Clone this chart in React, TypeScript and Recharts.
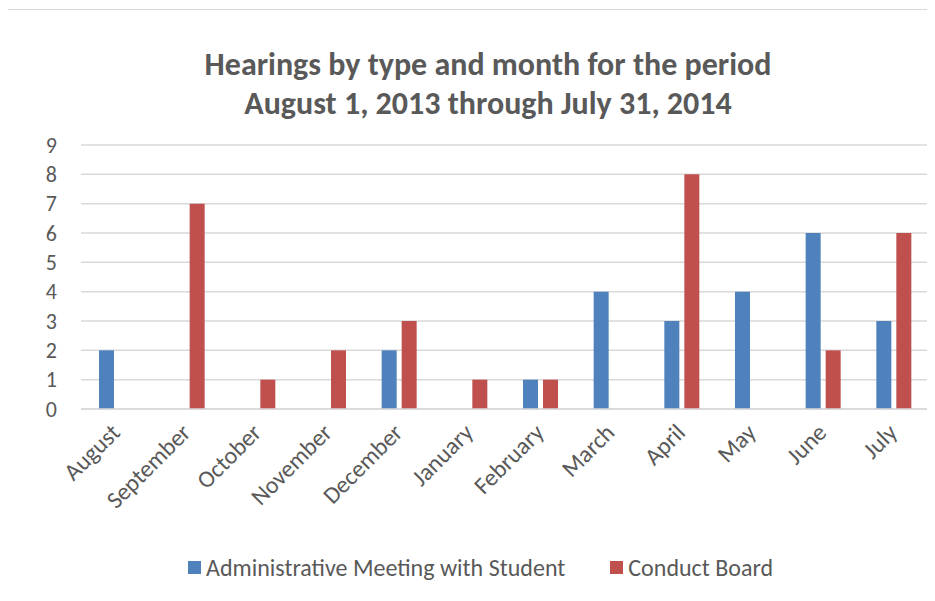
import { BarChart, Bar, XAxis, YAxis, CartesianGrid } from 'recharts';

const months = ['August', 'September', 'October', 'November', 'December', 'January', 'February', 'March', 'April', 'May', 'June', 'July'];
const adminMeetings = [2, 0, 0, 0, 2, 0, 1, 4, 3, 4, 6, 3];
const conductBoard = [0, 7, 1, 2, 3, 1, 1, 0, 8, 0, 2, 6];
const yTicks = [0, 1, 2, 3, 4, 5, 6, 7, 8, 9];

const FONT = 'Carlito, Calibri, Lato, sans-serif';
const TEXT = '#595959';
const BLUE = '#4F81BD';
const RED = '#C0504D';

const data = months.map((m, i) => ({ month: m, admin: adminMeetings[i], conduct: conductBoard[i] }));

function MonthTick(props: any) {
  const { x, y, payload } = props;
  const tx = x + 5;
  const ty = y + 17;
  return (
    <text
      x={tx}
      y={ty}
      transform={`rotate(-45, ${tx}, ${ty})`}
      textAnchor="end"
      fill={TEXT}
      fontSize={24}
      fontFamily={FONT}
    >
      {payload.value}
    </text>
  );
}

function ChartLegend() {
  const items = [
    { label: 'Administrative Meeting with Student', color: BLUE },
    { label: 'Conduct Board', color: RED },
  ];
  return (
    <div
      style={{
        position: 'absolute',
        left: 188,
        top: 553,
        display: 'flex',
        gap: 45,
        fontFamily: FONT,
        fontSize: 24,
        color: TEXT,
        whiteSpace: 'nowrap',
      }}
    >
      {items.map((it) => (
        <div key={it.label} style={{ display: 'flex', alignItems: 'center' }}>
          <span style={{ width: 13, height: 13, background: it.color, display: 'inline-block', marginRight: 5 }} />
          <span>{it.label}</span>
        </div>
      ))}
    </div>
  );
}

export default function App() {
  return (
    <div style={{ position: 'relative', width: 935, height: 601, margin: -8, overflow: 'hidden', background: '#fff' }}>
      <div style={{ position: 'absolute', left: 5, top: 9, width: 960, height: 620, border: '1px solid #d9d9d9' }} />
      <div
        style={{
          position: 'absolute',
          left: 0,
          top: 45,
          width: 976,
          textAlign: 'center',
          fontFamily: FONT,
          fontWeight: 'bold',
          fontSize: 32,
          lineHeight: '39px',
          color: TEXT,
        }}
      >
        Hearings by type and month for the period
        <br />
        August 1, 2013 through July 31, 2014
      </div>
      <div style={{ position: 'absolute', left: 0, top: 0 }}>
        <BarChart
          width={935}
          height={601}
          data={data}
          margin={{ top: 145, right: 6, bottom: 0, left: 0 }}
          barGap={5}
          barSize={15}
        >
          <CartesianGrid vertical={false} stroke="#d9d9d9" strokeWidth={1.5} />
          <XAxis
            dataKey="month"
            tick={<MonthTick />}
            tickLine={false}
            axisLine={{ stroke: '#d9d9d9', strokeWidth: 1.5 }}
            height={192}
            interval={0}
          />
          <YAxis
            domain={[0, 9]}
            ticks={yTicks}
            interval={0}
            width={81}
            tickLine={false}
            axisLine={false}
            tickMargin={18}
            tick={{ fill: TEXT, fontSize: 22, fontFamily: FONT }}
          />
          <Bar dataKey="admin" name="Administrative Meeting with Student" fill={BLUE} isAnimationActive={false} />
          <Bar dataKey="conduct" name="Conduct Board" fill={RED} isAnimationActive={false} />
        </BarChart>
      </div>
      <ChartLegend />
    </div>
  );
}
